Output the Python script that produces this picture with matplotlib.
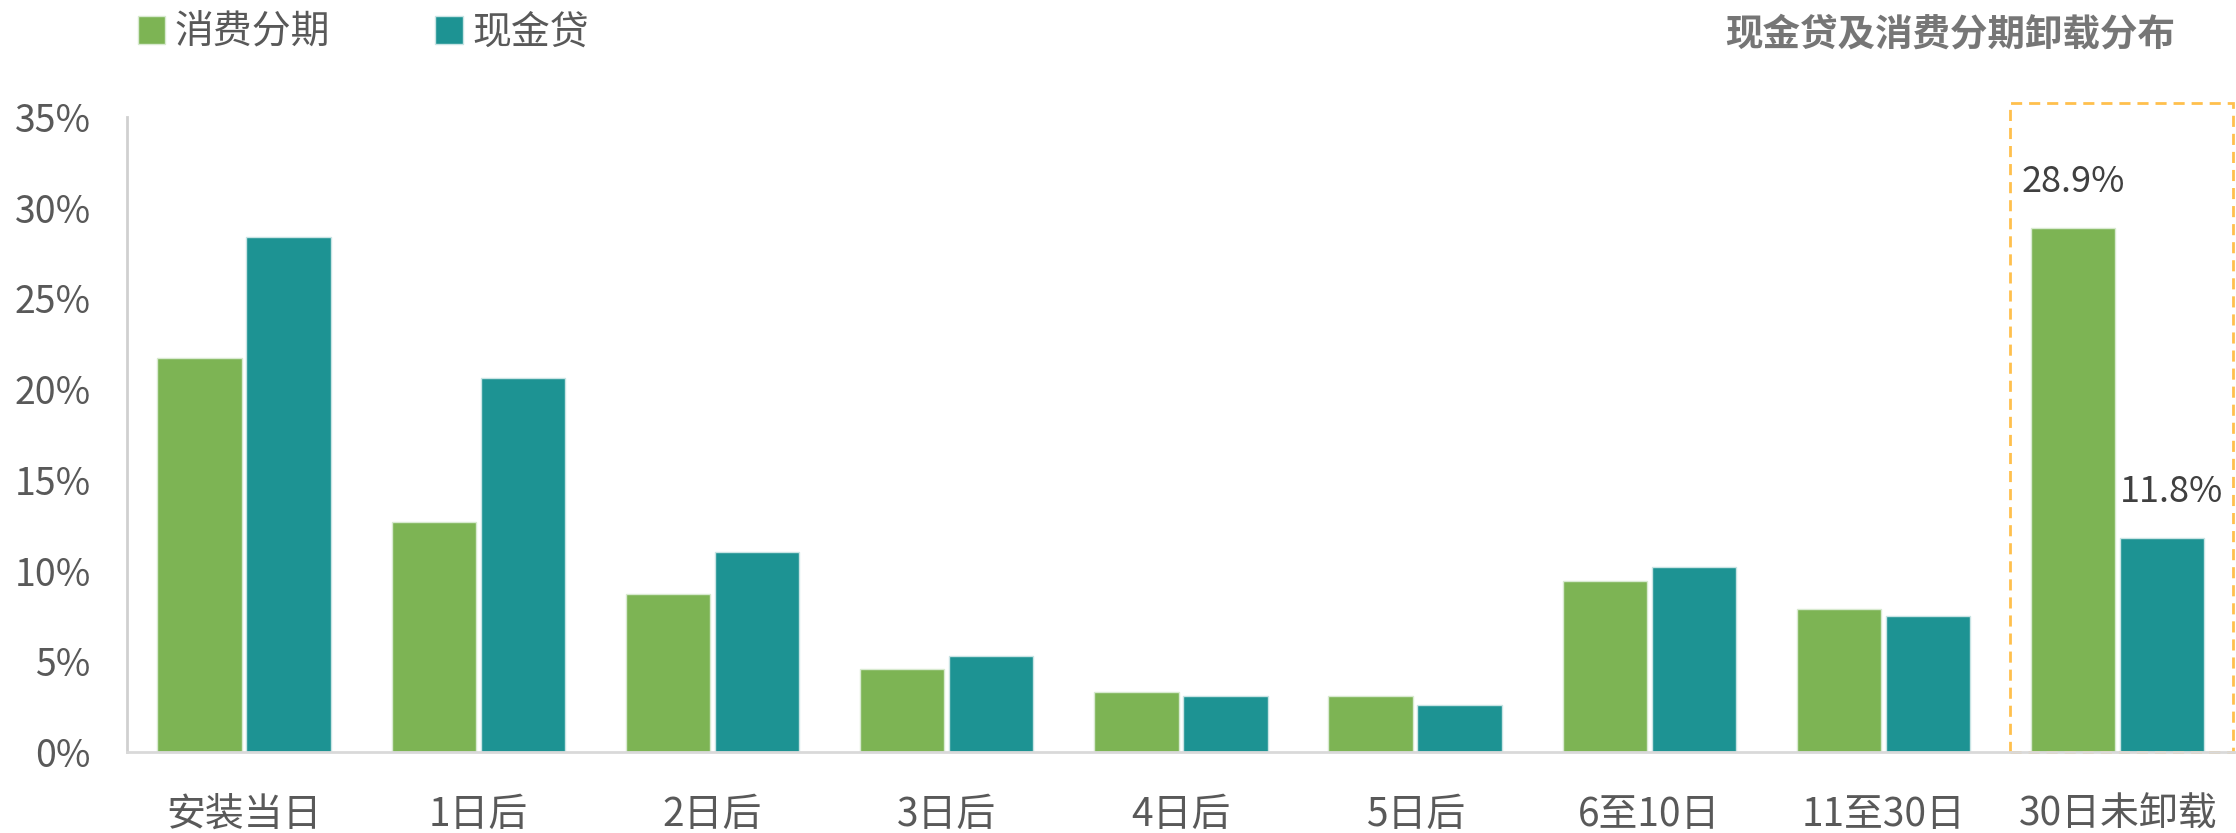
import numpy as np
import matplotlib
matplotlib.use("Agg")
import matplotlib.pyplot as plt
from matplotlib.patches import Rectangle
from matplotlib.ticker import FuncFormatter

plt.rcParams['font.family'] = ['Noto Sans CJK SC', 'DejaVu Sans']

# 数据
categories = ['安装当日', '1日后', '2日后', '3日后', '4日后', '5日后', '6至10日', '11至30日', '30日未卸载']
consumer_installment = [21.7, 12.7, 8.7, 4.6, 3.3, 3.1, 9.4, 7.9, 28.9]   # 消费分期
cash_loan = [28.4, 20.6, 11.0, 5.3, 3.1, 2.6, 10.2, 7.5, 11.8]          # 现金贷
series_names = ['消费分期', '现金贷']
y_ticks = [0, 5, 10, 15, 20, 25, 30, 35]
title = '现金贷及消费分期卸载分布'

GREEN = '#7DB454'
TEAL = '#1D9393'
TXT = '#595959'

fig = plt.figure(figsize=(22.36, 8.33), dpi=100)
ax = fig.add_axes([0.0568, 0.0972, 0.9427, 0.7623])

x = np.arange(len(categories))
w = 0.36
b1 = ax.bar(x - 0.19, consumer_installment, w, color=GREEN, edgecolor='#D8EAD0', linewidth=1, label=series_names[0])
b2 = ax.bar(x + 0.19, cash_loan, w, color=TEAL, edgecolor='#C8E4E4', linewidth=1, label=series_names[1])

ax.set_xlim(-0.5, len(categories) - 0.5)
ax.set_ylim(0, 35)
ax.set_yticks(y_ticks)
ax.yaxis.set_major_formatter(FuncFormatter(lambda v, p: f'{int(v)}%'))
ax.set_xticks(x)
ax.set_xticklabels(categories)
ax.tick_params(axis='both', length=0, labelcolor=TXT)
ax.tick_params(axis='x', pad=31, labelsize=28)
ax.tick_params(axis='y', pad=26, labelsize=27)

for s in ['top', 'right']:
    ax.spines[s].set_visible(False)
ax.spines['left'].set_color('#D0D0D0'); ax.spines['left'].set_linewidth(2)
ax.spines['bottom'].set_color('#D9D9D9'); ax.spines['bottom'].set_linewidth(2)

# 最后一组数值标签
last = len(categories) - 1
for bars, vals, dx in [(b1, consumer_installment, 0), (b2, cash_loan, 7)]:
    r = bars[last]
    ax.annotate(f'{vals[last]:.1f}%', (r.get_x() + r.get_width() / 2, vals[last]),
                xytext=(dx, 33), textcoords='offset points', ha='center', va='center',
                fontsize=26, color='#404040')

# 虚线框
ax.add_patch(Rectangle((last - 0.46, 0), 0.95, 35.8, fill=False, edgecolor='#FFC04D',
                       linestyle=(0, (4, 2.5)), linewidth=2, clip_on=False))

fig.legend(handles=[b1, b2], labels=series_names, loc='upper left', bbox_to_anchor=(0.046, 1.027),
           ncol=2, frameon=False, fontsize=28, handlelength=0.7, handleheight=0.7,
           handletextpad=0.25, columnspacing=2.7, labelcolor=TXT)

fig.text(0.973, 0.959, title, ha='right', va='center', fontsize=27, fontweight='bold', color='#767676')

fig.savefig('out.png', dpi=100)
